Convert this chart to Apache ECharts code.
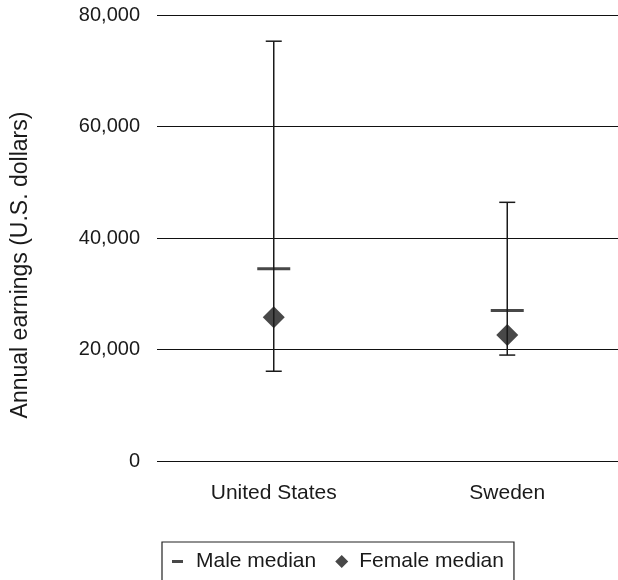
<!DOCTYPE html>
<html>
<head>
<meta charset="utf-8">
<script src="https://cdn.jsdelivr.net/npm/echarts@6/dist/echarts.min.js"></script>
<style>html,body{margin:0;padding:0;background:#fff;overflow:hidden}#c{width:618px;height:580px}</style>
</head>
<body>
<div id="c"></div>
<script>
var categories = ['United States', 'Sweden'];
var rangeLow = [16100, 19000];
var rangeHigh = [75300, 46400];
var maleMedian = [34500, 27000];
var femaleMedian = [25800, 22600];
var yTicks = [0, 20000, 40000, 60000, 80000];

var FONT = '"Liberation Sans", Arial, Helvetica, sans-serif';
var INK = '#1a1a1a';
var chart = echarts.init(document.getElementById('c'), null, {renderer: 'canvas'});

var whiskerData = categories.map(function (c, i) { return [i, rangeLow[i], rangeHigh[i]]; });

var BB = 'M0,0L0.01,0L0,0.01Z M19,14L18.99,14L19,13.99Z ';
var option = {
  animation: false,
  grid: {left: 157, right: -6, top: 15, bottom: 119, containLabel: false, outerBoundsMode: 'none'},
  xAxis: {
    type: 'category',
    data: categories,
    axisLine: {show: false},
    axisTick: {show: false},
    axisLabel: {color: INK, fontSize: 21, fontFamily: FONT, margin: 22}
  },
  yAxis: {
    type: 'value',
    min: yTicks[0],
    max: yTicks[yTicks.length - 1],
    interval: 20000,
    name: 'Annual earnings (U.S. dollars)',
    nameLocation: 'middle',
    nameRotate: 90,
    nameGap: 125,
    nameTextStyle: {color: INK, fontSize: 23, fontFamily: FONT, padding: [0, 54, 0, 0]},
    axisLine: {show: false},
    axisTick: {show: false},
    axisLabel: {
      color: INK, fontSize: 20, fontFamily: FONT, margin: 17,
      formatter: function (v) { return v.toLocaleString('en-US'); }
    },
    splitLine: {show: true, lineStyle: {color: '#111', width: 1}}
  },
  legend: {
    left: 162,
    top: 542,
    borderColor: '#222',
    borderWidth: 1.2,
    padding: [9, 10, 30, 10],
    itemGap: 19,
    itemWidth: 19,
    itemHeight: 14,
    textStyle: {color: INK, fontSize: 21, fontFamily: FONT},
    data: [
      {name: 'Male median', icon: 'path://' + BB + 'M0,5.5L11,5.5L11,8.5L0,8.5Z'},
      {name: 'Female median', icon: 'path://' + BB + 'M6.5,0.5L13,7L6.5,13.5L0,7Z'}
    ]
  },
  series: [
    {
      type: 'custom',
      name: 'range',
      data: whiskerData,
      z: 2,
      renderItem: function (params, api) {
        var x = api.value(0);
        var lo = api.coord([x, api.value(1)]);
        var hi = api.coord([x, api.value(2)]);
        var cap = 8;
        var style = {stroke: INK, lineWidth: 1.5};
        return {
          type: 'group',
          children: [
            {type: 'line', shape: {x1: lo[0], y1: lo[1], x2: hi[0], y2: hi[1]}, style: style},
            {type: 'line', shape: {x1: hi[0] - cap, y1: hi[1], x2: hi[0] + cap, y2: hi[1]}, style: style},
            {type: 'line', shape: {x1: lo[0] - cap, y1: lo[1], x2: lo[0] + cap, y2: lo[1]}, style: style}
          ]
        };
      }
    },
    {
      type: 'scatter',
      name: 'Male median',
      data: maleMedian,
      symbol: 'rect',
      symbolSize: [33, 3],
      itemStyle: {color: INK},
      z: 3
    },
    {
      type: 'scatter',
      name: 'Female median',
      data: femaleMedian,
      symbol: 'diamond',
      symbolSize: 22,
      itemStyle: {color: INK},
      z: 4
    }
  ]
};
chart.setOption(option);
</script>
</body>
</html>
